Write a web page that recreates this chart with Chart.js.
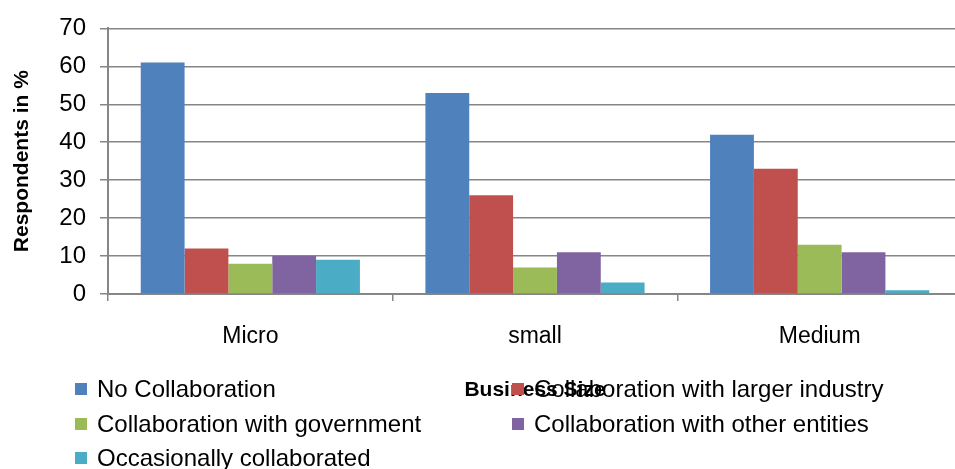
<!DOCTYPE html>
<html lang="en">
<head>
    <meta charset="UTF-8">
    <title>Collaboration by Business Size</title>
    <script src="https://cdn.jsdelivr.net/npm/chart.js"></script>
    <style>
        html, body { margin: 0; padding: 0; background: #fff; overflow: hidden; }
        #wrap { position: relative; width: 955px; height: 469px; overflow: hidden; }
        #box { position: absolute; left: 0; top: 0; width: 966px; height: 469px; }
        #legend { position: absolute; left: 0; top: 0; width: 955px; height: 469px; pointer-events: none;
                  font-family: "Liberation Sans", Arial, sans-serif; font-size: 24px; color: #000; }
        .item { position: absolute; white-space: nowrap; line-height: 26px; }
        .item span { display: inline-block; width: 12px; height: 12px; margin-right: 10px; vertical-align: 2px; }
    </style>
</head>
<body>
    <div id="wrap">
        <div id="box"><canvas id="myChart"></canvas></div>
        <div id="legend"></div>
    </div>
    <script>
        // chart data
        const categories = ['Micro', 'small', 'Medium'];
        const seriesNames = [
            'No Collaboration',
            'Collaboration with larger industry',
            'Collaboration with government',
            'Collaboration with other entities',
            'Occasionally collaborated'
        ];
        const noCollab = [61, 53, 42];
        const largerIndustry = [12, 26, 33];
        const government = [8, 7, 13];
        const otherEntities = [10, 11, 11];
        const occasionally = [9, 3, 1];
        const yTicks = [0, 10, 20, 30, 40, 50, 60, 70];

        const colors = ['#4F81BD', '#C0504D', '#9BBB59', '#8064A2', '#4BACC6'];
        const seriesValues = [noCollab, largerIndustry, government, otherEntities, occasionally];

        const datasets = seriesNames.map((name, i) => ({
            label: name,
            data: seriesValues[i],
            backgroundColor: colors[i],
            borderWidth: 0,
            categoryPercentage: 0.77,
            barPercentage: 1.0
        }));

        const ctx = document.getElementById('myChart').getContext('2d');
        const myChart = new Chart(ctx, {
            type: 'bar',
            data: { labels: categories, datasets: datasets },
            options: {
                responsive: true,
                maintainAspectRatio: false,
                animation: false,
                layout: { padding: { top: 16, right: 4, bottom: 0, left: 0 } },
                plugins: { legend: { display: false }, tooltip: { enabled: false } },
                scales: {
                    x: {
                        grid: { offset: true, drawOnChartArea: false, drawTicks: true, tickLength: 7, color: '#868686', lineWidth: 1.5 },
                        border: { color: '#868686', width: 2 },
                        ticks: { color: '#000', font: { family: 'Liberation Sans', size: 23 }, padding: 22, maxRotation: 0 },
                        title: {
                            display: true, text: 'Business Size', color: '#000',
                            font: { family: 'Liberation Sans', size: 21, weight: 'bold' },
                            padding: { top: 0, bottom: 66 }
                        },
                        afterFit: function (scale) { scale.height = 175; }
                    },
                    y: {
                        min: 0, max: 70,
                        afterBuildTicks: function (scale) { scale.ticks = yTicks.map(v => ({ value: v })); },
                        grid: { color: '#868686', lineWidth: 1.5, tickLength: 8 },
                        border: { color: '#868686', width: 2 },
                        ticks: { color: '#000', font: { family: 'Liberation Sans', size: 24 }, padding: 14 },
                        title: {
                            display: true, text: 'Respondents in %', color: '#000',
                            font: { family: 'Liberation Sans', size: 21, weight: 'bold' },
                            padding: { top: 10, bottom: 0 }
                        },
                        afterFit: function (scale) { scale.width = 108; }
                    }
                }
            }
        });

        // legend laid out in two columns like the original
        const legendPos = [[75, 389], [512, 389], [75, 424], [512, 424], [75, 458]];
        const legendBox = document.getElementById('legend');
        seriesNames.forEach((name, i) => {
            const div = document.createElement('div');
            div.className = 'item';
            div.style.left = legendPos[i][0] + 'px';
            div.style.top = (legendPos[i][1] - 13) + 'px';
            div.innerHTML = '<span style="background:' + colors[i] + '"></span>' + name;
            legendBox.appendChild(div);
        });
    </script>
</body>
</html>
